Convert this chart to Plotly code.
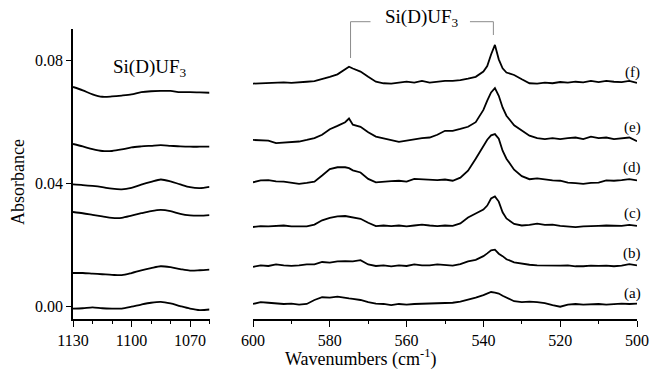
import plotly.graph_objects as go

# ---------------- data ----------------
labels = ["(a)", "(b)", "(c)", "(d)", "(e)", "(f)"]

# left panel (Si-D stretch region)
wn_left = [1130, 1125, 1120, 1115, 1110, 1105, 1100, 1095, 1090, 1085, 1080, 1075, 1070, 1065, 1060]
left_a = [-0.0008, -0.0007, -0.0004, -0.0007, -0.0008, -0.0008, -0.0002, 0.0005, 0.0011, 0.0014, 0.0009, 0.0000, -0.0008, -0.0013, -0.0011]
left_b = [0.0108, 0.0108, 0.0106, 0.0104, 0.0102, 0.0101, 0.0108, 0.0117, 0.0124, 0.0130, 0.0127, 0.0121, 0.0116, 0.0117, 0.0119]
left_c = [0.0307, 0.0303, 0.0298, 0.0293, 0.0288, 0.0288, 0.0295, 0.0303, 0.0310, 0.0314, 0.0310, 0.0301, 0.0296, 0.0295, 0.0297]
left_d = [0.0397, 0.0395, 0.0392, 0.0388, 0.0383, 0.0381, 0.0386, 0.0396, 0.0405, 0.0413, 0.0407, 0.0397, 0.0388, 0.0385, 0.0389]
left_e = [0.0529, 0.0521, 0.0512, 0.0506, 0.0506, 0.0511, 0.0518, 0.0521, 0.0523, 0.0525, 0.0523, 0.0521, 0.0520, 0.0520, 0.0520]
left_f = [0.0715, 0.0704, 0.0691, 0.0683, 0.0684, 0.0687, 0.0691, 0.0698, 0.0701, 0.0702, 0.0702, 0.0698, 0.0698, 0.0697, 0.0696]

# right panel
wn_right = [600, 598, 596, 594, 592, 590, 588, 586, 584, 582, 580, 578, 576, 575,
            574, 572, 570, 568, 566, 564, 562, 560, 558, 556, 554, 552, 550, 548, 546, 544, 542,
            540, 539, 538, 537, 536, 535, 534,
            532, 530, 528, 526, 524, 522, 520, 518, 516, 514, 512, 510, 508, 506, 504, 502, 500]
right_f = [0.0726, 0.0727, 0.0729, 0.0728, 0.0730, 0.0728, 0.0731, 0.0732, 0.0734, 0.0740, 0.0748, 0.0756, 0.0773, 0.0781,
           0.0775, 0.0765, 0.0748, 0.0732, 0.0727, 0.0726, 0.0729, 0.0732, 0.0729, 0.0735, 0.0729, 0.0732, 0.0735, 0.0735, 0.0737, 0.0742, 0.0748,
           0.0765, 0.0783, 0.0821, 0.0852, 0.0805, 0.0776, 0.0762,
           0.0754, 0.0740, 0.0727, 0.0726, 0.0729, 0.0727, 0.0731, 0.0729, 0.0732, 0.0730, 0.0735, 0.0731, 0.0735, 0.0732, 0.0731, 0.0735, 0.0728]
right_e = [0.0542, 0.0540, 0.0540, 0.0532, 0.0534, 0.0536, 0.0537, 0.0542, 0.0548, 0.0559, 0.0577, 0.0588, 0.0600, 0.0612,
           0.0592, 0.0585, 0.0567, 0.0553, 0.0547, 0.0542, 0.0536, 0.0540, 0.0545, 0.0548, 0.0550, 0.0559, 0.0572, 0.0572, 0.0578, 0.0585, 0.0600,
           0.0640, 0.0670, 0.0697, 0.0711, 0.0686, 0.0648, 0.0621,
           0.0590, 0.0572, 0.0556, 0.0548, 0.0545, 0.0548, 0.0545, 0.0548, 0.0550, 0.0545, 0.0553, 0.0548, 0.0550, 0.0545, 0.0548, 0.0550, 0.0538]
right_d = [0.0404, 0.0410, 0.0411, 0.0407, 0.0406, 0.0402, 0.0399, 0.0402, 0.0406, 0.0426, 0.0447, 0.0453, 0.0453, 0.0450,
           0.0443, 0.0436, 0.0415, 0.0404, 0.0407, 0.0408, 0.0409, 0.0406, 0.0415, 0.0413, 0.0413, 0.0411, 0.0413, 0.0409, 0.0419, 0.0442, 0.0481,
           0.0520, 0.0543, 0.0557, 0.0561, 0.0546, 0.0507, 0.0481,
           0.0445, 0.0424, 0.0414, 0.0417, 0.0413, 0.0410, 0.0409, 0.0403, 0.0401, 0.0399, 0.0402, 0.0403, 0.0410, 0.0409, 0.0411, 0.0414, 0.0410]
right_c = [0.0258, 0.0261, 0.0260, 0.0261, 0.0263, 0.0260, 0.0261, 0.0260, 0.0266, 0.0280, 0.0288, 0.0293, 0.0294, 0.0292,
           0.0289, 0.0285, 0.0272, 0.0261, 0.0263, 0.0261, 0.0263, 0.0260, 0.0263, 0.0266, 0.0263, 0.0261, 0.0263, 0.0262, 0.0270, 0.0289, 0.0302,
           0.0315, 0.0328, 0.0351, 0.0358, 0.0341, 0.0306, 0.0286,
           0.0268, 0.0263, 0.0265, 0.0269, 0.0265, 0.0266, 0.0262, 0.0260, 0.0258, 0.0260, 0.0260, 0.0262, 0.0263, 0.0263, 0.0262, 0.0265, 0.0262]
right_b = [0.0128, 0.0133, 0.0131, 0.0136, 0.0133, 0.0131, 0.0133, 0.0136, 0.0136, 0.0144, 0.0142, 0.0146, 0.0147, 0.0146,
           0.0146, 0.0150, 0.0136, 0.0131, 0.0133, 0.0130, 0.0133, 0.0131, 0.0136, 0.0133, 0.0133, 0.0136, 0.0133, 0.0132, 0.0137, 0.0146, 0.0151,
           0.0163, 0.0172, 0.0182, 0.0184, 0.0171, 0.0163, 0.0153,
           0.0143, 0.0138, 0.0135, 0.0133, 0.0132, 0.0133, 0.0132, 0.0133, 0.0130, 0.0130, 0.0132, 0.0131, 0.0132, 0.0130, 0.0132, 0.0137, 0.0133]
right_a = [0.0007, 0.0013, 0.0011, 0.0008, 0.0007, 0.0008, 0.0005, 0.0007, 0.0020, 0.0029, 0.0028, 0.0031, 0.0026, 0.0025,
           0.0024, 0.0020, 0.0013, 0.0008, 0.0007, 0.0003, 0.0007, 0.0005, 0.0007, 0.0008, 0.0007, 0.0008, 0.0010, 0.0011, 0.0015, 0.0021, 0.0028,
           0.0036, 0.0041, 0.0046, 0.0044, 0.0041, 0.0034, 0.0028,
           0.0016, 0.0013, 0.0015, 0.0013, 0.0010, 0.0003, -0.0002, 0.0005, 0.0007, 0.0005, 0.0007, 0.0007, 0.0005, 0.0007, 0.0008, 0.0007, 0.0008]

left_series = [left_a, left_b, left_c, left_d, left_e, left_f]
right_series = [right_a, right_b, right_c, right_d, right_e, right_f]

# ---------------- figure ----------------
W, H = 654, 372
PLOT_TOP, PLOT_BOTTOM = 29, 319
PH = PLOT_BOTTOM - PLOT_TOP
FONT = "Liberation Serif"
line_style = dict(color="black", width=1.8)

fig = go.Figure()
for ys in left_series:
    fig.add_trace(go.Scatter(x=wn_left, y=ys, mode="lines", xaxis="x", yaxis="y",
                             line=dict(shape="spline", smoothing=0.8, **line_style),
                             showlegend=False, hoverinfo="skip"))
for ys in right_series:
    fig.add_trace(go.Scatter(x=wn_right, y=ys, mode="lines", xaxis="x2", yaxis="y",
                             line=line_style, showlegend=False, hoverinfo="skip"))

axis_common = dict(showgrid=False, zeroline=False, showline=True, linecolor="black",
                   linewidth=1.6, ticks="outside", tickwidth=1.4, automargin=False,
                   tickcolor="black", tickfont=dict(family=FONT, size=16, color="black"))
minor_x = dict(dtick=10, ticks="outside", ticklen=3, tickcolor="black", tickwidth=1.2)

fig.update_layout(
    template="none",
    width=W, height=H,
    margin=dict(l=0, r=0, t=PLOT_TOP, b=H - PLOT_BOTTOM, pad=0),
    paper_bgcolor="white", plot_bgcolor="white",
    showlegend=False,
    xaxis=dict(domain=[73 / W, 209.5 / W], range=[1130, 1060], anchor="y",
               tickvals=[1130, 1100, 1070], ticklen=6, minor=minor_x, **axis_common),
    xaxis2=dict(domain=[253 / W, 637 / W], range=[600, 500], anchor="y",
                dtick=20, tick0=0, ticklen=6, minor=minor_x, **axis_common),
    yaxis=dict(domain=[0, 1], range=[-0.0042, 0.0904], tickvals=[0.0, 0.04, 0.08],
               tickformat=".2f", ticklen=5, **axis_common),
)

def py(pix):
    """pixel row -> paper fraction"""
    return (PLOT_BOTTOM - pix) / PH

annotations = [
    dict(text="Absorbance", xref="paper", yref="paper", x=18 / W, y=py(182),
         textangle=-90, showarrow=False, font=dict(family=FONT, size=18, color="black"),
         xanchor="center", yanchor="middle"),
    dict(text="Wavenumbers (cm<sup>-1</sup>)", xref="paper", yref="paper", x=361 / W, y=py(358),
         showarrow=False, font=dict(family=FONT, size=18, color="black"),
         xanchor="center", yanchor="middle"),
    dict(text="Si(D)UF<sub>3</sub>", xref="x", yref="y", x=1090.5, y=0.0777,
         showarrow=False, font=dict(family=FONT, size=19, color="black"),
         xanchor="center", yanchor="middle"),
    dict(text="Si(D)UF<sub>3</sub>", xref="x2", yref="paper", x=556, y=py(18),
         showarrow=False, font=dict(family=FONT, size=19, color="black"),
         xanchor="center", yanchor="middle"),
]
label_y = [0.0042, 0.0172, 0.0302, 0.0452, 0.0582, 0.0761]
for lab, ly in zip(labels, label_y):
    annotations.append(dict(text=lab, xref="x2", yref="y", x=501.3, y=ly, showarrow=False,
                            font=dict(family=FONT, size=15, color="black"),
                            xanchor="center", yanchor="middle"))
fig.update_layout(annotations=annotations)

# bracket marking the Si(D)UF3 bands
gray = dict(color="#8c8c8c", width=1)
y_top = py(21.7)
shapes = [
    dict(type="line", xref="x2", yref="paper", x0=574.6, x1=574.6, y0=py(58), y1=y_top, line=gray),
    dict(type="line", xref="x2", yref="paper", x0=574.6, x1=569.4, y0=y_top, y1=y_top, line=gray),
    dict(type="line", xref="x2", yref="paper", x0=543.5, x1=537.4, y0=y_top, y1=y_top, line=gray),
    dict(type="line", xref="x2", yref="paper", x0=537.4, x1=537.4, y0=py(35), y1=y_top, line=gray),
]
fig.update_layout(shapes=shapes)

fig.write_html("out.html")
